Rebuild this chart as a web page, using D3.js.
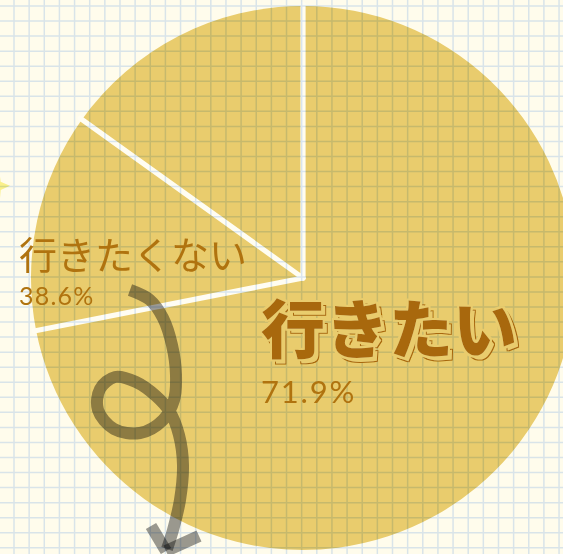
<!DOCTYPE html>
<html>
<head>
<meta charset="utf-8">
<script src="https://cdn.jsdelivr.net/npm/d3@7"></script>
<style>
  html, body { margin: 0; padding: 0; background: #fffcec; overflow: hidden; }
  svg { display: block; }
  .blend { mix-blend-mode: multiply; }
</style>
</head>
<body>
<svg id="chart" width="563" height="554"></svg>
<script>
// ---- data ----
const categories = ["行きたい", "行きたくない", ""];
const values = [71.9, 13.0, 15.1];
const labelText = ["71.9%", "38.6%", ""];

// ---- layout ----
const W = 563, H = 554;
const cx = 303, cy = 278, R = 272;
const pieColor = "#e9cc6d";
const darkText = "#a8680a";

const svg = d3.select("#chart");
const defs = svg.append("defs");

// 3D extrusion filter for the big label
const f = defs.append("filter").attr("id", "extrude")
  .attr("x", "-10%").attr("y", "-20%").attr("width", "130%").attr("height", "150%");
f.append("feOffset").attr("in", "SourceAlpha").attr("dx", 4).attr("dy", 4).attr("result", "off");
f.append("feMorphology").attr("in", "off").attr("operator", "dilate").attr("radius", 1.2).attr("result", "offD");
f.append("feFlood").attr("flood-color", darkText).attr("result", "dk");
f.append("feComposite").attr("in", "dk").attr("in2", "offD").attr("operator", "in").attr("result", "backRing");
f.append("feFlood").attr("flood-color", pieColor).attr("result", "pc");
f.append("feComposite").attr("in", "pc").attr("in2", "off").attr("operator", "in").attr("result", "backFill");
f.append("feMorphology").attr("in", "SourceAlpha").attr("operator", "dilate").attr("radius", 1.6).attr("result", "halo");
f.append("feComposite").attr("in", "pc").attr("in2", "halo").attr("operator", "in").attr("result", "haloFill");
const m = f.append("feMerge");
["backRing", "backFill", "haloFill", "SourceGraphic"].forEach(n => m.append("feMergeNode").attr("in", n));

svg.append("rect").attr("width", W).attr("height", H).attr("fill", "#fffcec");

// decorative yellow star at left edge (cut off)
const star = d3.range(10).map(i => {
  const a = i * Math.PI / 5 - Math.PI / 2 + 0.3;
  const rr = i % 2 ? 7 : 15;
  return [-5 + rr * Math.cos(a), 186 + rr * Math.sin(a)];
});
svg.append("polygon").attr("points", star.map(p => p.join(",")).join(" "))
  .attr("fill", "#faf08a");

const g = svg.append("g").attr("transform", `translate(${cx},${cy})`);
const pie = d3.pie().sort(null).value(d => d)(values);
const arc = d3.arc().innerRadius(0).outerRadius(R);

g.selectAll("path.slice").data(pie).join("path")
  .attr("class", "slice")
  .attr("d", arc)
  .attr("fill", pieColor);

// grid (multiply)
const grid = svg.append("g").attr("class", "blend");
const sx = 15.14, x0 = 14, sy = 15.05, y0 = 6;
const xs = d3.range(x0 - sx, W + sx, sx);
const ys = d3.range(y0 - sy, H + sy, sy);
grid.selectAll("line.v").data(xs).join("line")
  .attr("x1", d => d).attr("x2", d => d).attr("y1", 0).attr("y2", H)
  .attr("stroke", "#d9e7fc").attr("stroke-width", 1.5);
grid.selectAll("line.h").data(ys).join("line")
  .attr("y1", d => d).attr("y2", d => d).attr("x1", 0).attr("x2", W)
  .attr("stroke", "#d9e7fc").attr("stroke-width", 1.5);

// slice separators
const bounds = pie.map(d => d.startAngle);
g.selectAll("line.sep").data(bounds).join("line")
  .attr("x1", 0).attr("y1", 0)
  .attr("x2", a => (R + 2) * Math.sin(a))
  .attr("y2", a => -(R + 2) * Math.cos(a))
  .attr("stroke", "#fffdf2").attr("stroke-width", 5.2)
  .attr("stroke-linecap", "round");

// labels
const font = "'Noto Sans CJK JP', 'Noto Sans', sans-serif";
const numFont = "Lato, 'Noto Sans', sans-serif";
const labelColor = "#b0730f";

// small label (slice 2)
svg.append("text").attr("x", 19).attr("y", 269)
  .attr("font-family", font).attr("font-size", 38).attr("fill", labelColor)
  .text(categories[1]);
svg.append("text").attr("x", 19).attr("y", 305)
  .attr("font-family", numFont).attr("font-size", 25).attr("fill", labelColor)
  .attr("letter-spacing", 1.2)
  .text(labelText[1]);

// big 3D label (slice 1)
svg.append("text").attr("x", 261).attr("y", 353)
  .attr("font-family", font).attr("font-size", 64).attr("font-weight", 900)
  .attr("fill", darkText).attr("filter", "url(#extrude)")
  .text(categories[0]);
svg.append("text").attr("x", 261).attr("y", 402.5)
  .attr("font-family", numFont).attr("font-size", 31).attr("fill", labelColor)
  .attr("letter-spacing", 1.8)
  .text(labelText[0]);

// hand-drawn arrow (multiply)
const arrowPts = [[130,290],[150,300],[163,318],[172,345],[176,375],[174,400],[163,420],[140,433],
  [114,429],[98,410],[100,389],[115,377],[136,382],[156,396],[170,412],[179,435],[183,465],
  [180,500],[173,530],[167,549]];
const ag = svg.append("g");
const arrowColor = "#9a9a9a";
ag.append("path").attr("class", "blend")
  .attr("d", d3.line().curve(d3.curveCatmullRom)(arrowPts))
  .attr("fill", "none").attr("stroke", arrowColor).attr("stroke-width", 12)
  .attr("stroke-linecap", "butt");
ag.append("path").attr("class", "blend")
  .attr("d", d3.line()([[151,526],[166,551]]))
  .attr("stroke", arrowColor).attr("stroke-width", 12);
ag.append("path").attr("class", "blend")
  .attr("d", d3.line()([[199,536],[166,551]]))
  .attr("stroke", arrowColor).attr("stroke-width", 12);
</script>
</body>
</html>
